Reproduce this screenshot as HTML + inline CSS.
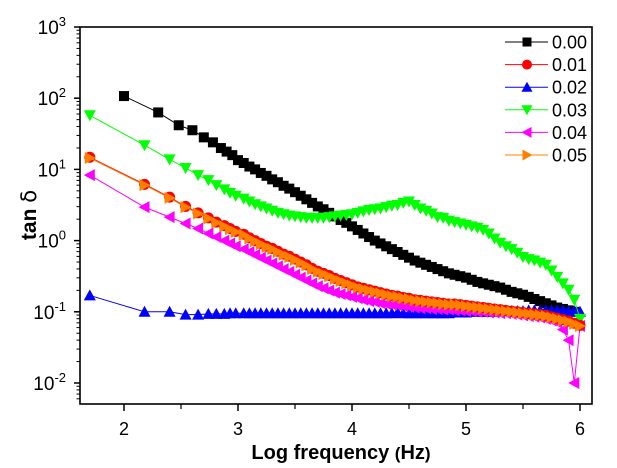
<!DOCTYPE html>
<html><head><meta charset="utf-8"><style>
body{margin:0;background:#fff;width:617px;height:468px;overflow:hidden}
svg{display:block;font-family:"Liberation Sans",Arial,sans-serif}
</style></head><body>
<svg id="chart" width="617" height="468" viewBox="0 0 617 468" xmlns="http://www.w3.org/2000/svg">
<g id="marks"></g>
<g id="axes"></g>
<g id="legend"></g>
<text x="341" y="459" text-anchor="middle" font-size="20" font-weight="bold">Log frequency <tspan font-size="17">(</tspan>Hz<tspan font-size="17">)</tspan></text>
<text transform="translate(36,215) rotate(-90)" text-anchor="middle" font-size="21" font-weight="bold">tan <tspan font-weight="normal" font-family="'DejaVu Sans',sans-serif">δ</tspan></text>
</svg>
<script>
const xTicks=[2,3,4,5,6];
const yTicks=[3,2,1,0,-1,-2];
const seriesNames=["0.00","0.01","0.02","0.03","0.04","0.05"];
const xLate=[3.05,3.1,3.15,3.2,3.25,3.3,3.35,3.4,3.45,3.5,
 3.55,3.6,3.65,3.7,3.75,3.8,3.85,3.9,3.95,4.0,
 4.05,4.1,4.15,4.2,4.25,4.3,4.35,4.4,4.45,4.5,
 4.55,4.6,4.65,4.7,4.75,4.8,4.85,4.9,4.95,5.0,
 5.05,5.1,5.15,5.2,5.25,5.3,5.35,5.4,5.45,5.5,
 5.55,5.6,5.65,5.7,5.75,5.8,5.85,5.9,5.95];
const xBlack=[2,2.3,2.48,2.6,2.7,2.78,2.85,2.9,2.95,3.0].concat(xLate);
const yBlack=[2.03,1.8,1.62,1.55,1.45,1.38,1.3,1.25,1.2,1.13,
 1.09,1.04,1.0,0.95,0.91,0.86,0.82,0.77,0.73,0.68,
 0.63,0.58,0.53,0.48,0.44,0.39,0.34,0.29,0.25,0.2,
 0.15,0.1,0.05,0.0,-0.04,-0.08,-0.12,-0.16,-0.2,-0.24,
 -0.28,-0.31,-0.34,-0.37,-0.4,-0.43,-0.46,-0.48,-0.5,-0.52,
 -0.55,-0.58,-0.6,-0.62,-0.64,-0.66,-0.69,-0.72,-0.74,-0.76,
 -0.79,-0.82,-0.85,-0.88,-0.91,-0.94,-0.96,-0.98,-1.0];
const xOdd=[1.7,2.18,2.4,2.54,2.65,2.74,2.81,2.88,2.93,2.98].concat(xLate).concat([6.0]);
const yGreen=[1.76,1.34,1.14,1.02,0.92,0.85,0.78,0.72,0.67,0.63,
 0.59,0.55,0.51,0.48,0.45,0.42,0.39,0.37,0.35,0.34,
 0.33,0.32,0.32,0.32,0.32,0.33,0.34,0.35,0.36,0.37,
 0.39,0.41,0.43,0.44,0.45,0.47,0.49,0.5,0.53,0.55,
 0.5,0.45,0.42,0.38,0.33,0.32,0.28,0.26,0.24,0.22,
 0.2,0.18,0.15,0.1,0.03,-0.03,-0.08,-0.12,-0.17,-0.23,
 -0.26,-0.28,-0.31,-0.34,-0.42,-0.51,-0.6,-0.69,-0.83,-1.1];
const yRed=[1.17,0.79,0.61,0.48,0.39,0.32,0.26,0.21,0.17,0.13,
 0.09,0.04,0.0,-0.04,-0.08,-0.11,-0.15,-0.19,-0.22,-0.26,
 -0.3,-0.34,-0.39,-0.43,-0.46,-0.49,-0.53,-0.56,-0.59,-0.62,
 -0.65,-0.67,-0.69,-0.71,-0.73,-0.75,-0.77,-0.78,-0.8,-0.81,
 -0.83,-0.84,-0.85,-0.86,-0.87,-0.88,-0.89,-0.89,-0.9,-0.91,
 -0.92,-0.93,-0.94,-0.95,-0.96,-0.97,-0.98,-0.99,-1.0,-1.01,
 -1.02,-1.03,-1.04,-1.05,-1.07,-1.09,-1.11,-1.13,-1.16,-1.19];
const yOrange=[1.16,0.78,0.6,0.47,0.38,0.31,0.25,0.2,0.16,0.12,
 0.08,0.03,-0.01,-0.05,-0.09,-0.12,-0.16,-0.2,-0.23,-0.27,
 -0.31,-0.35,-0.4,-0.44,-0.47,-0.5,-0.54,-0.57,-0.6,-0.63,
 -0.66,-0.68,-0.7,-0.72,-0.74,-0.76,-0.78,-0.79,-0.81,-0.82,
 -0.84,-0.85,-0.86,-0.87,-0.88,-0.89,-0.9,-0.9,-0.91,-0.92,
 -0.93,-0.94,-0.95,-0.96,-0.97,-0.98,-0.99,-1.0,-1.01,-1.02,
 -1.03,-1.04,-1.05,-1.06,-1.08,-1.1,-1.12,-1.14,-1.17,-1.2];
const yMagenta=[0.92,0.47,0.33,0.24,0.17,0.1,0.05,0.0,-0.04,-0.08,
 -0.12,-0.16,-0.2,-0.24,-0.28,-0.32,-0.36,-0.4,-0.44,-0.48,
 -0.52,-0.56,-0.6,-0.64,-0.67,-0.7,-0.73,-0.75,-0.77,-0.79,
 -0.81,-0.83,-0.85,-0.86,-0.88,-0.89,-0.9,-0.91,-0.92,-0.93,
 -0.94,-0.95,-0.95,-0.96,-0.96,-0.97,-0.97,-0.98,-0.98,-0.99,
 -0.99,-1.0,-1.0,-1.01,-1.01,-1.02,-1.02,-1.03,-1.04,-1.05,
 -1.06,-1.07,-1.08,-1.1,-1.12,-1.15,-1.25,-1.4,-2.0,-1.2];
const yBlue=[-0.77,-1.0,-1.0,-1.04,-1.04,-1.03,-1.03,-1.03,-1.02,-1.02,
 -1.02,-1.02,-1.02,-1.02,-1.02,-1.02,-1.02,-1.02,-1.02,-1.02,
 -1.02,-1.02,-1.02,-1.02,-1.02,-1.02,-1.02,-1.02,-1.02,-1.02,
 -1.02,-1.02,-1.02,-1.02,-1.02,-1.02,-1.02,-1.01,-1.02,-1.02,
 -1.02,-1.02,-1.02,-1.02,-1.02,-1.02,-1.02,-1.01,-1.01,-1.01,
 -1.0,-1.0,-1.0,-1.0,-1.0,-0.99,-0.99,-0.99,-0.99,-0.99,
 -0.98,-0.98,-0.98,-0.98,-0.98,-0.98,-0.98,-0.99,-0.99,-1.0];

const L=80,R=592,T=27,B=404;
const xs=v=>124+(v-2)*114;
const ys=v=>27+(3-v)*71.2;
const NS="http://www.w3.org/2000/svg";
function mk(tag,attrs,parent){const e=document.createElementNS(NS,tag);for(const k in attrs)e.setAttribute(k,attrs[k]);parent.appendChild(e);return e;}
function marker(shape,x,y,c,p,s){
  s=s||5;let e;
  if(shape==="square")e=mk("rect",{x:x-s,y:y-s,width:2*s,height:2*s,fill:c},p);
  else if(shape==="circle")e=mk("circle",{cx:x,cy:y,r:s+0.5,fill:c},p);
  else{let pts;
    if(shape==="up")pts=[[x,y-s-1],[x-s-1,y+s],[x+s+1,y+s]];
    if(shape==="down")pts=[[x,y+s+1],[x-s-1,y-s],[x+s+1,y-s]];
    if(shape==="left")pts=[[x-s-1,y],[x+s,y-s-1],[x+s,y+s+1]];
    if(shape==="right")pts=[[x+s+1,y],[x-s,y-s-1],[x-s,y+s+1]];
    e=mk("polygon",{points:pts.map(q=>q.join(",")).join(" "),fill:c},p);}
  return e;
}
const series=[
 {name:"0.00",xv:xBlack,yv:yBlack,c:"#000000",shape:"square"},
 {name:"0.01",xv:xOdd,yv:yRed,c:"#ff0000",shape:"circle"},
 {name:"0.02",xv:xOdd,yv:yBlue,c:"#0000ff",shape:"up"},
 {name:"0.03",xv:xOdd,yv:yGreen,c:"#00ff00",shape:"down"},
 {name:"0.04",xv:xOdd,yv:yMagenta,c:"#ff00ff",shape:"left"},
 {name:"0.05",xv:xOdd,yv:yOrange,c:"#ff8000",shape:"right"}
];
const marks=document.getElementById("marks");
const drawOrder=[0,2,3,4,1,5];
drawOrder.forEach(i=>{
  const s=series[i];
  const g=mk("g",{},marks);
  
  
  const n=Math.min(s.xv.length,s.yv.length);
  const pts=[];for(let k=0;k<n;k++)pts.push(xs(s.xv[k])+","+ys(s.yv[k]));
  const pl=mk("polyline",{points:pts.join(" "),fill:"none",stroke:s.c,"stroke-width":1},g);
  
  
  for(let k=0;k<n;k++){
    const m=marker(s.shape,xs(s.xv[k]),ys(s.yv[k]),s.c,g);
    
    
  }
});
const ax=document.getElementById("axes");
mk("rect",{x:L,y:T,width:R-L,height:B-T,fill:"none",stroke:"#000","stroke-width":1.6},ax);
xTicks.forEach(v=>{
  const x=xs(v);
  mk("line",{x1:x,y1:B,x2:x,y2:B+7,stroke:"#000","stroke-width":1.5},ax);
  const t=mk("text",{x:x,y:435,"text-anchor":"middle","font-size":18},ax);t.textContent=v;
  
  
  if(v<6){const xm=xs(v+0.5);mk("line",{x1:xm,y1:B,x2:xm,y2:B+5,stroke:"#000","stroke-width":1.2},ax);}
});
yTicks.forEach(v=>{
  const y=ys(v);
  mk("line",{x1:L-6,y1:y,x2:L,y2:y,stroke:"#000","stroke-width":1.5},ax);
  const t=mk("text",{x:66,y:y+7,"text-anchor":"end","font-size":19},ax);
  t.textContent="10";
  const sp=mk("tspan",{dy:-8,"font-size":13},t);sp.textContent=String(v);
  
  
});
for(let d=-3;d<3;d++){for(let m=2;m<=9;m++){const y=ys(d+Math.log10(m));if(y>B||y<T)continue;
  mk("line",{x1:L-3.5,y1:y,x2:L,y2:y,stroke:"#000","stroke-width":1},ax);}}
const lg=document.getElementById("legend");
series.forEach((s,i)=>{
  const y=42+i*22.6;
  const g=mk("g",{},lg);
  
  
  mk("line",{x1:505,y1:y,x2:548,y2:y,stroke:s.c,"stroke-width":1},g);
  marker(s.shape,527,y,s.c,g,4.5);
  const t=mk("text",{x:552,y:y+6.5,"font-size":18},g);t.textContent=s.name;
});
</script>
</body></html>
